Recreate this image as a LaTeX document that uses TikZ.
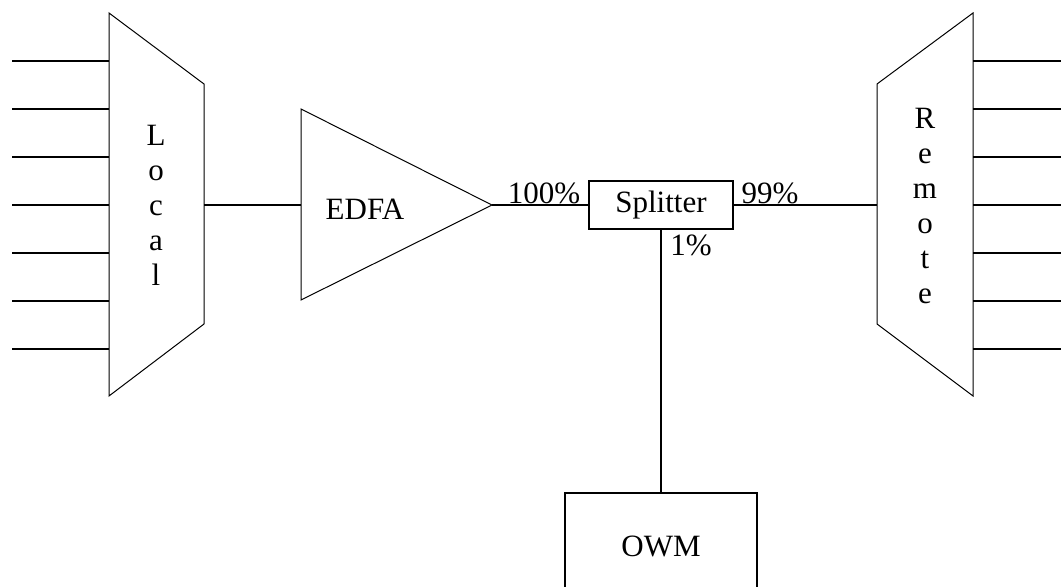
\documentclass[tikz,border=0pt]{standalone}
\usepackage{fontspec}
\setmainfont{Liberation Serif}
\usetikzlibrary{positioning}
\tikzset{
fibre/.style = {line width=1pt},
mux/.style = {line width=0.5pt},
box/.style = {draw, line width=1pt, inner sep=0pt},
lbl/.style = {inner sep=0pt, anchor=base}
}
\newcommand{\port}[2]{\coordinate (#1) at (#2);}
\newcommand{\fibre}[2]{\draw[fibre] (#1) -- (#2);}

\begin{document}
\begin{tikzpicture}[x=0.5pt, y=-0.5pt, font=\fontsize{15.5}{17.5}\selectfont]
        \useasboundingbox (0,0) rectangle (1061,587);
        % local mux
        \draw[mux] (109,13) -- (204,84) -- (204,324) -- (109,396) -- cycle;
        \node[align=center] (local) at (156,205) {L\\o\\c\\a\\l};
        \port{a1}{12,61};   \port{b1}{109,61};
        \port{a2}{12,109};  \port{b2}{109,109};
        \port{a3}{12,157};  \port{b3}{109,157};
        \port{a4}{12,205};  \port{b4}{109,205};
        \port{a5}{12,253};  \port{b5}{109,253};
        \port{a6}{12,301};  \port{b6}{109,301};
        \port{a7}{12,349};  \port{b7}{109,349};
        \port{local out}{204,205};
        % amplifier
        \draw[mux] (301,109) -- (492,205) -- (301,300) -- cycle;
        \node (edfa) at (365,209) {EDFA};
        \port{edfa in}{301,205};
        \port{edfa out}{492,205};
        % splitter and meter
        \node[box, minimum width=72pt, minimum height=24pt] (split) at (661,205) {Splitter};
        \node[box, minimum width=96pt, minimum height=53pt] (owm) at (661,546) {OWM};
        % remote mux
        \draw[mux] (877,84) -- (973,13) -- (973,396) -- (877,324) -- cycle;
        \node[align=center] (remote) at (925,206) {R\\e\\m\\o\\t\\e};
        \port{remote in}{877,205};
        \port{c1}{973,61};   \port{d1}{1061,61};
        \port{c2}{973,109};  \port{d2}{1061,109};
        \port{c3}{973,157};  \port{d3}{1061,157};
        \port{c4}{973,205};  \port{d4}{1061,205};
        \port{c5}{973,253};  \port{d5}{1061,253};
        \port{c6}{973,301};  \port{d6}{1061,301};
        \port{c7}{973,349};  \port{d7}{1061,349};
        % fibres
        \fibre{a1}{b1}; \fibre{a2}{b2}; \fibre{a3}{b3}; \fibre{a4}{b4};
        \fibre{a5}{b5}; \fibre{a6}{b6}; \fibre{a7}{b7};
        \fibre{local out}{edfa in};
        \fibre{edfa out}{split};
        \fibre{split}{remote in};
        \fibre{split}{owm};
        \fibre{c1}{d1}; \fibre{c2}{d2}; \fibre{c3}{d3}; \fibre{c4}{d4};
        \fibre{c5}{d5}; \fibre{c6}{d6}; \fibre{c7}{d7};
        % split ratios
        \node[lbl] (in pct) at (544,204) {100\%};
        \node[lbl] (thru pct) at (770,204) {99\%};
        \node[lbl] (tap pct) at (691,256) {1\%};
        \end{tikzpicture}
\end{document}
